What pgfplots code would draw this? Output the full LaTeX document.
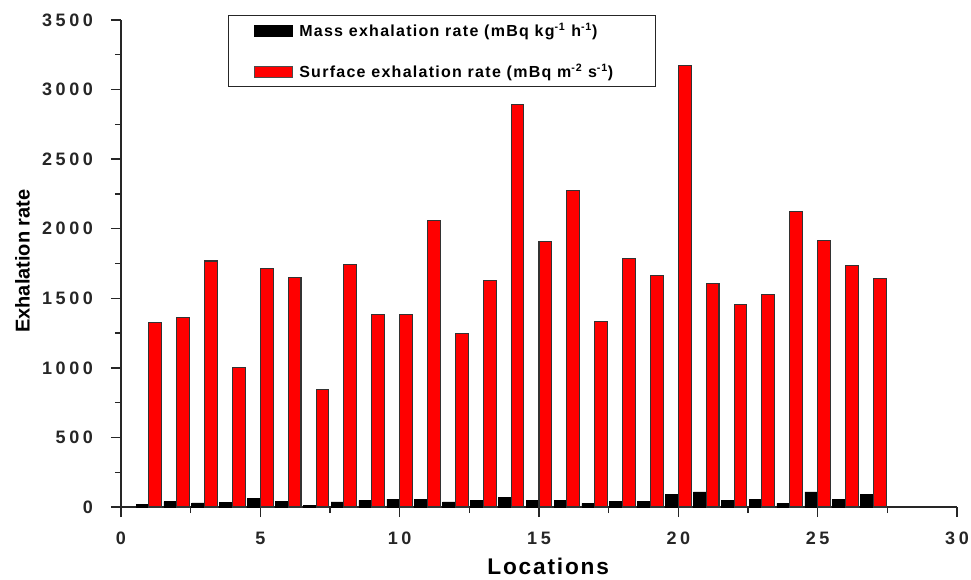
\documentclass[border=0pt]{standalone}
\usepackage{fontspec}
\setmainfont{Liberation Sans}
\newfontfamily\spacedfont[LetterSpace=20]{Liberation Sans}
\newfontfamily\legfont[LetterSpace=8]{Liberation Sans}
\newfontfamily\labfont[LetterSpace=8]{Liberation Sans}
\usepackage{pgfplots}
\pgfplotsset{compat=1.18}
\pgfplotstableread{
x mass surface
1 17 1325
2 38 1365
3 29 1768
4 31 1000
5 60 1712
6 38 1652
7 10 842
8 36 1745
9 48 1386
10 57 1386
11 57 2062
12 36 1250
13 45 1630
14 67 2895
15 45 1910
16 45 2276
17 26 1334
18 38 1788
19 38 1662
20 88 3172
21 108 1608
22 45 1452
23 57 1525
24 26 2127
25 108 1915
26 57 1736
27 88 1640
}\datatable
\begin{document}
\begin{tikzpicture}
\useasboundingbox (-90.75pt,-54pt) rectangle (637.5pt,380.25pt);
\begin{axis}[
  scale only axis,
  width=627pt, height=365.25pt,
  xmin=0, xmax=30, ymin=0, ymax=3500,
  xtick={0,5,...,30}, ytick={0,500,...,3500},
  minor x tick num=1, minor y tick num=1,
  axis x line*=bottom, axis y line*=left,
  axis line style={line width=1pt, black!85},
  tick style={line width=1pt, black!85},
  tick align=outside,
  major tick length=7.5pt, minor tick length=4.5pt,
  /pgf/number format/assume math mode=true,
  /pgf/number format/1000 sep={},
  ticklabel style={font=\spacedfont\bfseries\fontsize{13.5}{15}\selectfont, text=black!85},
  yticklabel style={xshift=-10pt},
  xticklabel style={yshift=-7.5pt},
  xlabel={Locations},
  ylabel={Exhalation rate},
  xlabel style={at={(axis description cs:0.511,-0.121)}, anchor=center, font=\labfont\bfseries\fontsize{17}{20}\selectfont},
  ylabel style={at={(axis description cs:-0.118,0.505)}, anchor=center, rotate=0, font=\bfseries\fontsize{15}{18}\selectfont},
  ybar, bar width=0.46,
  legend style={at={(axis description cs:0.128,1.010)}, anchor=north west,
    draw=black!85, line width=0.9pt, inner xsep=19pt, inner ysep=3.5pt,
    row sep=15.5pt, column sep=2.5pt, font=\legfont\bfseries\fontsize{12}{14}\selectfont},
  legend cell align=left,
]
\addplot[fill=black, draw=black, line width=0.5pt, bar shift=-0.23,
  legend image code/.code={\draw[fill=black, draw=black, line width=0.6pt] (0pt,-4.1pt) rectangle (28.5pt,4.1pt);}]
  table[x=x, y=mass] {\datatable};
\addlegendentry{\makebox[246pt][l]{Mass exhalation rate (mBq kg\textsuperscript{-1} h\textsuperscript{-1})}}
\addplot[fill=red, draw=black!80, line width=0.8pt, bar shift=0.23,
  legend image code/.code={\draw[fill=red, draw=black!70, line width=1pt] (0pt,-4.1pt) rectangle (28.5pt,4.1pt);}]
  table[x=x, y=surface] {\datatable};
\addlegendentry{\makebox[246pt][l]{Surface exhalation rate (mBq m\textsuperscript{-2} s\textsuperscript{-1})}}
\end{axis}
\end{tikzpicture}
\end{document}
